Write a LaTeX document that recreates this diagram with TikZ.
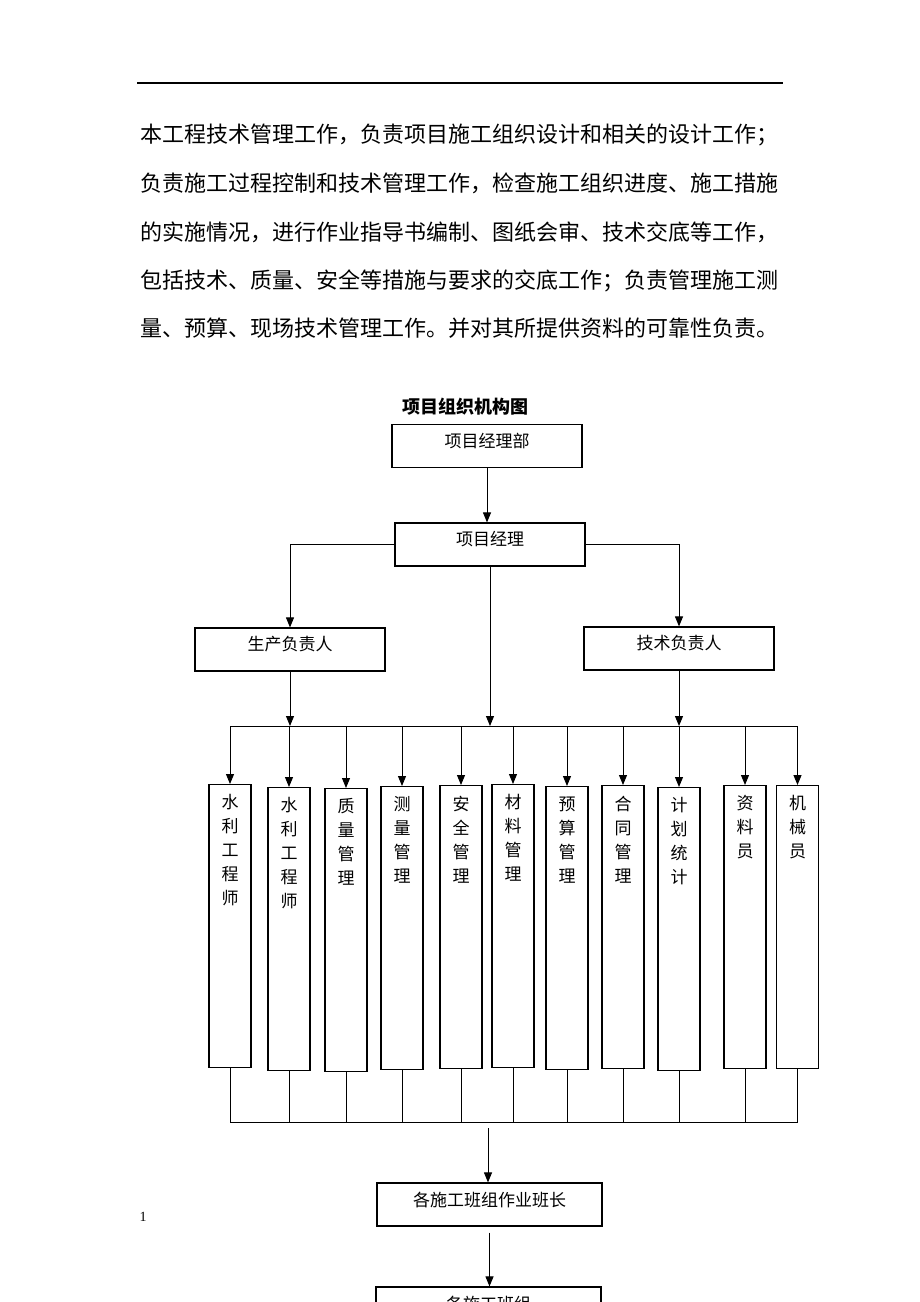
\documentclass[tikz,border=0pt]{standalone}
\usepackage{fontspec}
\setmainfont{Noto Sans CJK SC}
\newfontfamily\latinserif{Liberation Serif}
\usetikzlibrary{arrows.meta}
\begin{document}
\begin{tikzpicture}[x=1pt,y=-1pt,
  box/.style={draw, line width=1.2pt, inner sep=0pt},
  wide/.style={box, minimum width=190pt, minimum height=43pt},
  tall/.style={box, minimum width=42pt, minimum height=283pt},
  lbl/.style={inner sep=0pt, font=\fontsize{17}{24}\selectfont, align=center, anchor=north},
  conn/.style={line width=1pt},
  arr/.style={conn, -{Triangle[length=10pt,width=8pt]}},
  body/.style={inner sep=0pt, anchor=west, font=\fontsize{22}{22}\selectfont}]
\useasboundingbox (0,0) rectangle (920,1302);
\clip (0,0) rectangle (920,1302);
\fill[white] (0,0) rectangle (920,1302);
% top rule
\coordinate (ruleL) at (137,83);
\coordinate (ruleR) at (783,83);
\draw[line width=1.3pt] (ruleL) -- (ruleR);
% body text
\node[body] (l1) at (140,135) {本工程技术管理工作，负责项目施工组织设计和相关的设计工作；};
\node[body] (l2) at (140,183) {负责施工过程控制和技术管理工作，检查施工组织进度、施工措施};
\node[body] (l3) at (140,232) {的实施情况，进行作业指导书编制、图纸会审、技术交底等工作，};
\node[body] (l4) at (140,281) {包括技术、质量、安全等措施与要求的交底工作；负责管理施工测};
\node[body] (l5) at (140,328) {量、预算、现场技术管理工作。并对其所提供资料的可靠性负责。};
% title
\node[inner sep=0pt, font=\fontsize{18}{18}\selectfont\bfseries] (title) at (465,407) {项目组织机构图};
% main boxes
\node[wide] (hq) at (487,446) {};
\node[lbl] (hqt) at ([yshift=-9pt]hq.north) {项目经理部};
\node[wide] (pm) at (490,544.5) {};
\node[lbl] (pmt) at ([yshift=-9pt]pm.north) {项目经理};
\node[wide] (prod) at (290,649.5) {};
\node[lbl] (prodt) at ([yshift=-9pt]prod.north) {生产负责人};
\node[wide] (tech) at (679,648.5) {};
\node[lbl] (techt) at ([yshift=-9pt]tech.north) {技术负责人};
% narrow boxes
\foreach \i/\x/\yt/\lab in {
  1/230/784/{水\\利\\工\\程\\师},
  2/289/787/{水\\利\\工\\程\\师},
  3/346/788/{质\\量\\管\\理},
  4/402/786/{测\\量\\管\\理},
  5/461/785/{安\\全\\管\\理},
  6/513/784/{材\\料\\管\\理},
  7/567/786/{预\\算\\管\\理},
  8/623/785/{合\\同\\管\\理},
  9/679/787/{计\\划\\统\\计},
  10/745/785/{资\\料\\员},
  11/797.5/785/{机\\械\\员}}{
  \node[tall, anchor=north] (n\i) at (\x,\yt) {};
  \node[lbl] (t\i) at ([yshift=-10.5pt]n\i.north) {\lab};
}
% connectors top part
\draw[arr] (hq.south) -- (hq.south |- pm.north);
\draw[arr] (pm.west) -| (prod.north);
\draw[arr] (pm.east) -| (tech.north);
\coordinate (busL) at (230,726);
\coordinate (busR) at (797.5,726);
\draw[conn] (busL) -- (busR);
\draw[arr] (pm.south) -- (pm.south |- busL);
\draw[arr] (prod.south) -- (prod.south |- busL);
\draw[arr] (tech.south) -- (tech.south |- busL);
\foreach \i in {1,...,11}{
  \draw[arr] (n\i.north |- busL) -- (n\i.north);
}
% bottom bus
\coordinate (bbL) at (230,1122);
\coordinate (bbR) at (797.5,1122);
\draw[conn] (bbL) -- (bbR);
\foreach \i in {1,...,11}{
  \draw[conn] (n\i.south) -- (n\i.south |- bbL);
}
% lower boxes
\node[box, minimum width=225pt, minimum height=43pt] (leader) at (489.5,1204.5) {};
\node[lbl] (leadert) at ([yshift=-9pt]leader.north) {各施工班组作业班长};
\node[box, minimum width=225pt, minimum height=43pt] (team) at (488.5,1308.5) {};
\node[lbl] (teamt) at ([yshift=-9pt]team.north) {各施工班组};
\coordinate (bm) at (488,1128);
\draw[arr] (bm) -- (bm |- leader.north);
\draw[arr] ([yshift=-6pt]leader.south) -- (leader.south |- team.north);
% page number
\node[inner sep=0pt, font=\latinserif\fontsize{14}{14}\selectfont] (pg) at (143,1217) {1};
\end{tikzpicture}
\end{document}
